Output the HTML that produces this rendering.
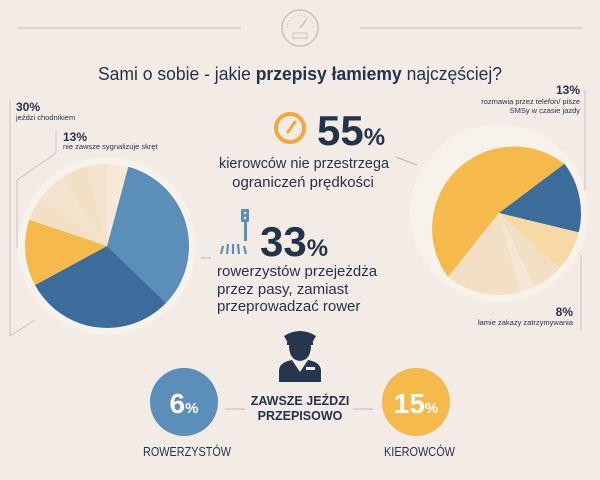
<!DOCTYPE html>
<html><head><meta charset="utf-8"><style>
body{margin:0;background:#f3ece6;}
svg{display:block;font-family:"Liberation Sans",sans-serif;}
</style></head><body>
<svg width="600" height="480" viewBox="0 0 600 480">
<rect width="600" height="480" fill="#f3ece6"/>
<!-- header -->
<line x1="18" y1="28" x2="241" y2="28" stroke="#cfc6bf" stroke-width="1.2"/>
<line x1="360" y1="28" x2="582" y2="28" stroke="#cfc6bf" stroke-width="1.2"/>
<circle cx="300" cy="28" r="18" fill="none" stroke="#c9c0b9" stroke-width="1.5"/>
<path d="M287 28 A13 13 0 0 1 313 28" fill="none" stroke="#c9c0b9" stroke-width="1" stroke-dasharray="1.5 2"/>
<line x1="300" y1="28" x2="307" y2="19" stroke="#c9c0b9" stroke-width="1.5"/>
<rect x="293" y="33" width="14" height="5" fill="none" stroke="#c9c0b9"/>
<text x="98" y="80" font-size="18.5" fill="#26324a" textLength="404" lengthAdjust="spacingAndGlyphs">Sami o sobie - jakie <tspan font-weight="bold">przepisy łamiemy</tspan> najczęściej?</text>

<!-- left pie -->
<circle cx="107" cy="246" r="89" fill="#f8f2ec"/>
<g transform="translate(107,246)">
<path d="M0 0 L21.2 -79.2 A82 82 0 0 1 59 57 Z" fill="#5c8eba"/>
<path d="M0 0 L59 57 A82 82 0 0 1 -72 39 Z" fill="#3b6c9a"/>
<path d="M0 0 L-72 39 A82 82 0 0 1 -77.7 -26.3 Z" fill="#f6b94b"/>
<path d="M0 0 L-77.7 -26.3 A82 82 0 0 1 -66 -48 Z" fill="#f3dfc4"/>
<path d="M0 0 L-66 -48 A82 82 0 0 1 -44 -69 Z" fill="#f5e3cd"/>
<path d="M0 0 L-44 -69 A82 82 0 0 1 -20 -79.5 Z" fill="#f3dfc4"/>
<path d="M0 0 L-20 -79.5 A82 82 0 0 1 0 -82 Z" fill="#f5e3cd"/>
<path d="M0 0 L0 -82 A82 82 0 0 1 21.2 -79.2 Z" fill="#f7e9d8"/>
</g>
<polyline points="10,100 10,336 35,320" fill="none" stroke="#c9c0b9" stroke-width="1"/>
<polyline points="56,131 56,153 17,180 17,248" fill="none" stroke="#c9c0b9" stroke-width="1"/>
<text x="16" y="111" font-size="12" font-weight="bold" fill="#26324a">30%</text>
<text x="16" y="120" font-size="7.5" fill="#26324a">jeździ chodnikiem</text>
<text x="63" y="141" font-size="12" font-weight="bold" fill="#26324a">13%</text>
<text x="63" y="149" font-size="7.5" fill="#26324a">nie zawsze sygnalizuje skręt</text>

<!-- 55% -->
<circle cx="290" cy="128" r="14" fill="none" stroke="#f2a93b" stroke-width="4"/>
<line x1="288" y1="132" x2="295" y2="122" stroke="#f2a93b" stroke-width="3" stroke-linecap="round"/>
<text x="317" y="145" font-size="42" font-weight="bold" fill="#22334a">55<tspan font-size="24">%</tspan></text>
<text x="219" y="168" font-size="15" fill="#26324a" textLength="170" lengthAdjust="spacingAndGlyphs">kierowców nie przestrzega</text>
<text x="303" y="187" text-anchor="middle" font-size="15" fill="#26324a">ograniczeń prędkości</text>
<line x1="396" y1="157" x2="417" y2="165" stroke="#b9b0a9" stroke-width="1"/>

<!-- 33% -->
<rect x="241" y="209" width="8" height="13" rx="1" fill="#5c8eba"/>
<circle cx="245" cy="213" r="1.2" fill="#f3ece6"/><circle cx="245" cy="218" r="1.2" fill="#f3ece6"/>
<rect x="244" y="222" width="3" height="19" fill="#5c8eba"/>
<g stroke="#5c8eba" stroke-width="2.2">
<line x1="221" y1="254" x2="223" y2="246"/><line x1="227" y1="254" x2="228" y2="244"/><line x1="233" y1="254" x2="233" y2="244"/><line x1="239" y1="254" x2="238" y2="244"/><line x1="246" y1="254" x2="244" y2="246"/>
</g>
<text x="260" y="256" font-size="42" font-weight="bold" fill="#22334a">33<tspan font-size="24">%</tspan></text>
<text x="217" y="276" font-size="15" fill="#26324a">rowerzystów przejeżdża</text>
<text x="217" y="294" font-size="15" fill="#26324a">przez pasy, zamiast</text>
<text x="217" y="311" font-size="15" fill="#26324a">przeprowadzać rower</text>
<line x1="201" y1="258" x2="211" y2="258" stroke="#b9b0a9" stroke-width="1"/>

<!-- right pie -->
<circle cx="499" cy="213" r="89" fill="#f8f2ec"/>
<g transform="translate(499,213)">
<path d="M0 0 L-51 64 A82 82 0 0 1 65.5 -49.2 Z" fill="#f6b94b"/>
<path d="M0 0 L65.5 -49.2 A82 82 0 0 1 79.7 19.4 Z" fill="#3b6c9a"/>
<path d="M0 0 L79.7 19.4 A82 82 0 0 1 60.4 55.4 Z" fill="#f6d9a5"/>
<path d="M0 0 L60.4 55.4 A82 82 0 0 1 35.4 74 Z" fill="#f3dfc4"/>
<path d="M0 0 L35.4 74 A82 82 0 0 1 21.3 79.2 Z" fill="#f6e6d3"/>
<path d="M0 0 L21.3 79.2 A82 82 0 0 1 -51 64 Z" fill="#f3dfc4"/>
</g>
<line x1="585" y1="90" x2="585" y2="190" stroke="#c9c0b9" stroke-width="1"/>
<line x1="581" y1="255" x2="581" y2="330" stroke="#c9c0b9" stroke-width="1"/>
<text x="580" y="94" text-anchor="end" font-size="12" font-weight="bold" fill="#26324a">13%</text>
<text x="580" y="104" text-anchor="end" font-size="7.5" fill="#26324a">rozmawia przez telefon/ pisze</text>
<text x="580" y="113" text-anchor="end" font-size="7.5" fill="#26324a">SMSy w czasie jazdy</text>
<text x="573" y="316" text-anchor="end" font-size="12" font-weight="bold" fill="#26324a">8%</text>
<text x="573" y="325" text-anchor="end" font-size="7.5" fill="#26324a">łamie zakazy zatrzymywania</text>

<!-- police -->
<path d="M284 336 Q300 326 316 336 L312 343 L288 343 Z" fill="#26364f"/>
<rect x="287" y="342" width="26" height="3" fill="#26364f"/>
<path d="M289 345 Q289 360 300 361 Q311 360 311 345 Z" fill="#26364f"/>
<path d="M279 382 L279 370 Q280 362 292 360 L300 372 L308 360 Q320 362 321 370 L321 382 Z" fill="#26364f"/>
<rect x="306" y="367" width="9" height="3" fill="#f3ece6"/>

<!-- bottom -->
<circle cx="184" cy="402" r="34" fill="#5c8eba"/>
<text x="184" y="413" text-anchor="middle" font-size="28" font-weight="bold" fill="#fff">6<tspan font-size="15">%</tspan></text>
<circle cx="416" cy="402" r="34" fill="#f6b94b"/>
<text x="416" y="413" text-anchor="middle" font-size="28" font-weight="bold" fill="#fff">15<tspan font-size="15">%</tspan></text>
<line x1="225" y1="409" x2="245" y2="409" stroke="#c9c0b9" stroke-width="1.2"/>
<line x1="353" y1="409" x2="373" y2="409" stroke="#c9c0b9" stroke-width="1.2"/>
<text x="300" y="405" text-anchor="middle" font-size="12.5" font-weight="bold" fill="#26324a">ZAWSZE JEŹDZI</text>
<text x="300" y="420" text-anchor="middle" font-size="12.5" font-weight="bold" fill="#26324a">PRZEPISOWO</text>
<text x="143" y="456" font-size="13" fill="#26324a" textLength="88" lengthAdjust="spacingAndGlyphs">ROWERZYSTÓW</text>
<text x="384" y="456" font-size="13" fill="#26324a" textLength="71" lengthAdjust="spacingAndGlyphs">KIEROWCÓW</text>
</svg>
</body></html>
